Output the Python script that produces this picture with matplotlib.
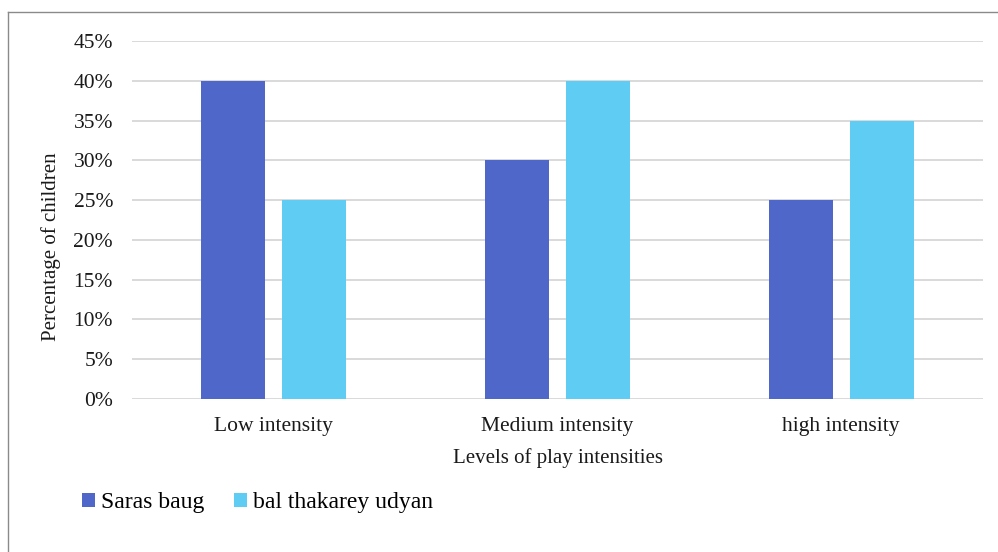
import matplotlib
matplotlib.use("Agg")

import matplotlib.pyplot as plt
from matplotlib.lines import Line2D
from matplotlib.patches import Patch
from matplotlib.ticker import PercentFormatter, MultipleLocator
import numpy as np

categories = ["Low intensity", "Medium intensity", "high intensity"]
saras_baug = [0.40, 0.30, 0.25]
bal_thakarey = [0.25, 0.40, 0.35]
series_names = ["Saras baug", "bal thakarey udyan"]
colors = ["#4F67C8", "#5ECCF3"]

plt.rcParams["font.family"] = ["Liberation Serif", "DejaVu Serif"]

fig = plt.figure(figsize=(9.98, 5.52), dpi=100)
ax = fig.add_axes([0.1323, 0.2772, 0.8527, 0.6485])

x = np.arange(len(categories))
width = 0.2256
offset = 0.1428
ax.bar(x - offset, saras_baug, width, color=colors[0], zorder=3)
ax.bar(x + offset, bal_thakarey, width, color=colors[1], zorder=3)

ax.set_xlim(-0.5, len(categories) - 0.5)
ax.set_ylim(0, 0.45)
ax.yaxis.set_major_locator(MultipleLocator(0.05))
ax.yaxis.set_major_formatter(PercentFormatter(1.0, decimals=0))
ax.set_xticks(x)
ax.set_xticklabels(categories)

ax.grid(axis="y", color="#D9D9D9", linewidth=1.4, zorder=0)
for s in ax.spines.values():
    s.set_visible(False)
ax.tick_params(axis="both", length=0, labelsize=15.5, colors="#1a1a1a")
ax.tick_params(axis="y", pad=13.7)
ax.tick_params(axis="x", pad=13)

ax.set_ylabel("Percentage of children", fontsize=15, color="#1a1a1a")
ax.yaxis.set_label_coords(-0.0834, 0.4246)
ax.set_xlabel("Levels of play intensities", fontsize=15, labelpad=9, color="#1a1a1a")

handles = [Patch(facecolor=c, edgecolor="none") for c in colors]
fig.legend(handles, series_names, loc="center left",
           bbox_to_anchor=(0.061, 0.089), frameon=False, ncol=2,
           fontsize=17, handlelength=0.55, handleheight=0.55,
           handletextpad=0.25, columnspacing=1.25)

# thin frame on the left and top edges
fig.add_artist(Line2D([8 / 998, 8 / 998], [0, 1 - 12 / 552],
                      transform=fig.transFigure, color="#8a8a8a", lw=1))
fig.add_artist(Line2D([8 / 998, 1], [1 - 12 / 552, 1 - 12 / 552],
                      transform=fig.transFigure, color="#8a8a8a", lw=1))

fig.savefig("out.png", dpi=100)
